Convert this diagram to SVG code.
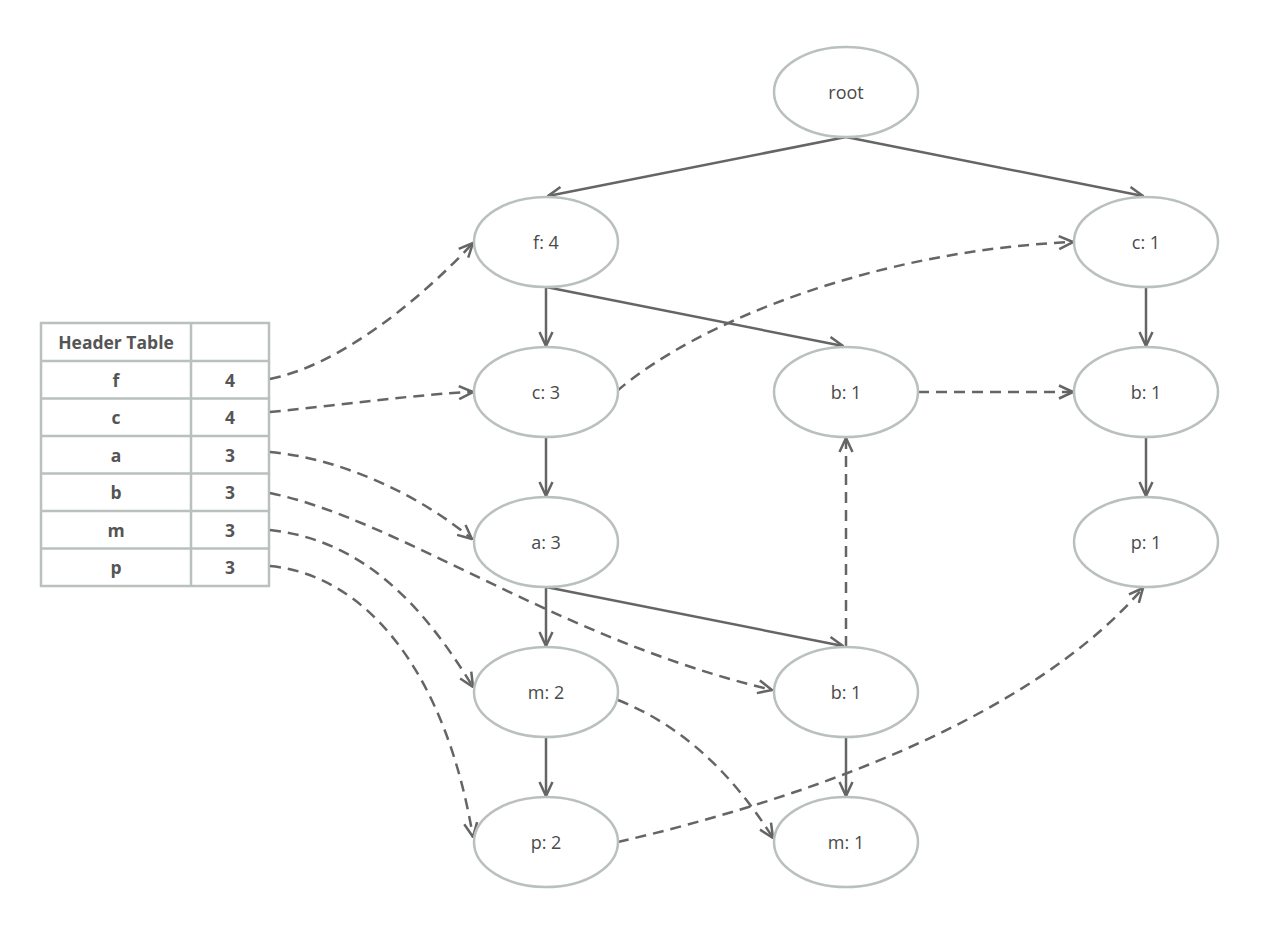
<svg xmlns="http://www.w3.org/2000/svg" width="1278" height="932" viewBox="0 0 1278 932">
<style>
.node ellipse{fill:#fff;stroke:#b9c0be;stroke-width:2.5}
.node text{font-family:"Open Sans",Lato,sans-serif;font-size:18px;fill:#4a4a4a;text-anchor:middle;dominant-baseline:central}
.tbl rect,.tbl line{stroke:#b9c0be;stroke-width:2.5;fill:#fff}
.tbl text{font-family:"Open Sans",Lato,sans-serif;font-size:17.5px;font-weight:bold;fill:#555;text-anchor:middle;dominant-baseline:central}
.e{fill:none;stroke:#656565;stroke-width:2.5;marker-end:url(#ah)}
.d{stroke-dasharray:11 7}
</style>
<defs>
<marker id="ah" markerUnits="userSpaceOnUse" viewBox="0 0 17 16" markerWidth="17" markerHeight="16" refX="16" refY="8" orient="auto">
<path d="M2,1.5 L16,8 L2,14.5" fill="none" stroke="#656565" stroke-width="2.5"/>
</marker>
</defs>
<rect width="1278" height="932" fill="#fff"/>
<g id="header-table" class="tbl">
<rect x="41" y="323" width="228" height="263"/>
<line x1="191" y1="323" x2="191" y2="586"/>
<line x1="41" y1="361" x2="269" y2="361"/>
<line x1="41" y1="398.5" x2="269" y2="398.5"/>
<line x1="41" y1="436" x2="269" y2="436"/>
<line x1="41" y1="473.5" x2="269" y2="473.5"/>
<line x1="41" y1="511" x2="269" y2="511"/>
<line x1="41" y1="548.5" x2="269" y2="548.5"/>
<text x="116" y="342">Header Table</text>
<text x="116" y="380">f</text><text x="230" y="380">4</text>
<text x="116" y="417">c</text><text x="230" y="417">4</text>
<text x="116" y="455">a</text><text x="230" y="455">3</text>
<text x="116" y="492">b</text><text x="230" y="492">3</text>
<text x="116" y="530">m</text><text x="230" y="530">3</text>
<text x="116" y="567">p</text><text x="230" y="567">3</text>
</g>
<g id="connectors">
<path class="e" d="M846,137 L548,196"/>
<path class="e" d="M846,137 L1143,196"/>
<path class="e" d="M546,287 L546,346"/>
<path class="e" d="M546,287 L843,346"/>
<path class="e" d="M1146,287 L1146,346"/>
<path class="e" d="M546,437 L546,496"/>
<path class="e" d="M1146,437 L1146,496"/>
<path class="e" d="M546,587 L546,646"/>
<path class="e" d="M546,587 L843,646"/>
<path class="e" d="M546,737 L546,796"/>
<path class="e" d="M846,737 L846,796"/>
<path class="e d" d="M270,379 C340,365 420,300 473,243"/>
<path class="e d" d="M270,412 C340,405 420,394 473,392"/>
<path class="e d" d="M270,452 C340,458 420,495 472,539"/>
<path class="e d" d="M270,493 C400,520 560,640 772,690"/>
<path class="e d" d="M270,530 C360,540 420,600 473,687"/>
<path class="e d" d="M270,566 C365,575 445,670 473,837"/>
<path class="e d" d="M617,391 C700,320 880,250 1073,242"/>
<path class="e d" d="M918,392 L1073,392"/>
<path class="e d" d="M846,647 L846,438"/>
<path class="e d" d="M618,700 C680,725 730,770 773,838"/>
<path class="e d" d="M618,842 C800,800 1030,720 1143,588"/>
</g>
<g id="n-root" class="node"><ellipse cx="846" cy="92" rx="72" ry="45"/><text x="846" y="92">root</text></g>
<g id="n-f4" class="node"><ellipse cx="546" cy="242" rx="72" ry="45"/><text x="546" y="242">f: 4</text></g>
<g id="n-c1" class="node"><ellipse cx="1146" cy="242" rx="72" ry="45"/><text x="1146" y="242">c: 1</text></g>
<g id="n-c3" class="node"><ellipse cx="546" cy="392" rx="72" ry="45"/><text x="546" y="392">c: 3</text></g>
<g id="n-b1a" class="node"><ellipse cx="846" cy="392" rx="72" ry="45"/><text x="846" y="392">b: 1</text></g>
<g id="n-b1b" class="node"><ellipse cx="1146" cy="392" rx="72" ry="45"/><text x="1146" y="392">b: 1</text></g>
<g id="n-a3" class="node"><ellipse cx="546" cy="542" rx="72" ry="45"/><text x="546" y="542">a: 3</text></g>
<g id="n-p1" class="node"><ellipse cx="1146" cy="542" rx="72" ry="45"/><text x="1146" y="542">p: 1</text></g>
<g id="n-m2" class="node"><ellipse cx="546" cy="692" rx="72" ry="45"/><text x="546" y="692">m: 2</text></g>
<g id="n-b1c" class="node"><ellipse cx="846" cy="692" rx="72" ry="45"/><text x="846" y="692">b: 1</text></g>
<g id="n-p2" class="node"><ellipse cx="546" cy="842" rx="72" ry="45"/><text x="546" y="842">p: 2</text></g>
<g id="n-m1" class="node"><ellipse cx="846" cy="842" rx="72" ry="45"/><text x="846" y="842">m: 1</text></g>
</svg>
